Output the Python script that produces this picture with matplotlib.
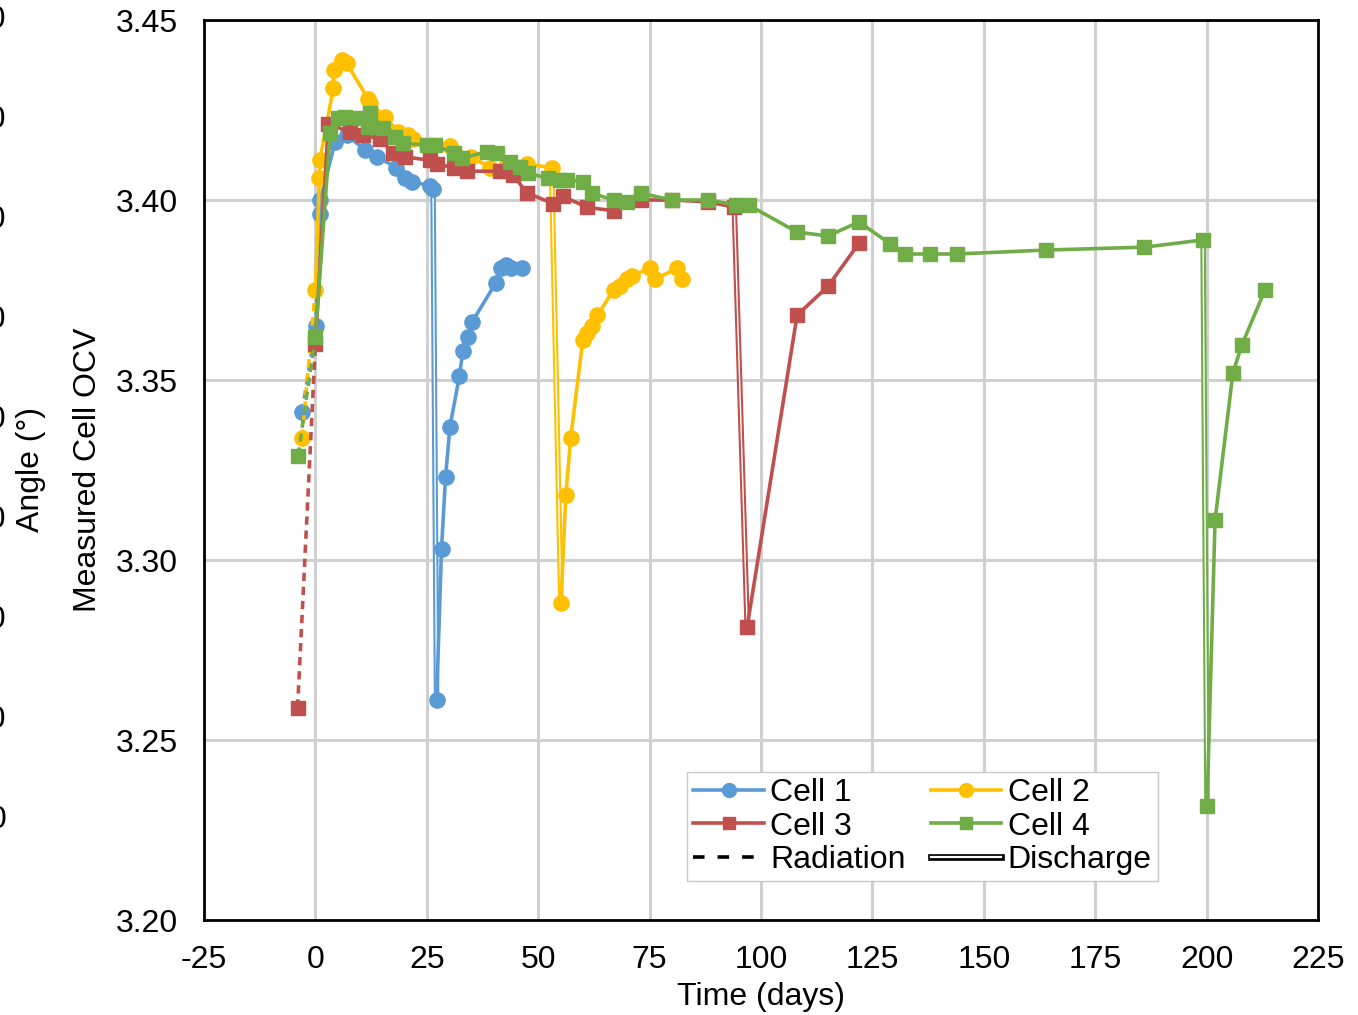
#OCV of the four cells over time, with radiation and discharge steps marked

import numpy as np
from matplotlib import pyplot as plt
from matplotlib.lines import Line2D
import matplotlib.patheffects as pe

# cell 1 (blue circles)
days1 = [-3.0, 0.1, 1.0, 1.1, 4.4, 7.0, 11.1, 13.8, 18.2, 20.1, 21.6, 25.7, 26.4,
         27.2, 28.3, 29.2, 30.2, 32.3, 33.1, 34.2, 35.1, 40.5, 41.6, 42.8, 44.0, 46.4]
ocv1 = [3.341, 3.365, 3.396, 3.400, 3.416, 3.418, 3.414, 3.412, 3.409, 3.406, 3.405, 3.404, 3.403,
        3.261, 3.303, 3.323, 3.337, 3.351, 3.358, 3.362, 3.366, 3.377, 3.381, 3.382, 3.381, 3.381]
dis1 = 12

# cell 2 (yellow circles)
days2 = [-3.0, 0.0, 0.9, 1.0, 4.0, 4.1, 5.9, 7.0, 11.9, 12.3, 15.6, 18.6, 20.8, 21.9, 25.0,
         30.2, 35.0, 39.2, 43.0, 47.4, 53.0, 55.1, 56.2, 57.3, 60.0, 60.9, 62.0, 63.3, 66.9,
         68.4, 69.9, 71.0, 75.1, 76.2, 81.1, 82.2]
ocv2 = [3.334, 3.375, 3.406, 3.411, 3.431, 3.436, 3.439, 3.438, 3.428, 3.427, 3.423, 3.419,
        3.418, 3.417, 3.415, 3.415, 3.412, 3.409, 3.410, 3.410, 3.409, 3.288, 3.318, 3.334,
        3.361, 3.363, 3.365, 3.368, 3.375, 3.376, 3.378, 3.379, 3.381, 3.378, 3.381, 3.378]
dis2 = 20

# cell 3 (red squares)
days3 = [-4.0, 0.0, 2.9, 7.8, 10.7, 14.5, 17.4, 20.1, 25.7, 27.2, 31.0, 34.0, 41.4, 44.4,
         47.4, 53.4, 55.6, 60.9, 66.9, 73.0, 80.0, 88.0, 94.0, 96.9, 108.1, 115.0, 122.0]
ocv3 = [3.259, 3.360, 3.421, 3.419, 3.418, 3.417, 3.413, 3.412, 3.411, 3.410, 3.409, 3.408,
        3.408, 3.407, 3.402, 3.399, 3.401, 3.398, 3.397, 3.400, 3.400, 3.3995, 3.398, 3.2815,
        3.368, 3.376, 3.388]
dis3 = 22

# cell 4 (green squares)
days4 = [-3.9, 0.0, 3.3, 5.1, 6.6, 10.0, 11.8, 12.3, 15.2, 17.9, 19.7, 25.0, 26.8, 31.0,
         32.8, 38.4, 40.7, 43.7, 45.9, 47.8, 52.3, 54.9, 56.4, 60.1, 62.0, 66.9, 69.9, 73.0,
         80.0, 88.2, 94.5, 97.2, 108.1, 115.0, 122.0, 129.0, 132.3, 137.9, 144.0, 164.0,
         186.0, 199.2, 200.1, 201.9, 205.9, 207.9, 213.1]
ocv4 = [3.329, 3.362, 3.4185, 3.4227, 3.4231, 3.4227, 3.4204, 3.4241, 3.4199, 3.4176, 3.4157,
        3.4153, 3.4153, 3.413, 3.4116, 3.4134, 3.413, 3.4106, 3.4093, 3.4074, 3.406, 3.4056,
        3.4056, 3.4051, 3.4019, 3.400, 3.3995, 3.4019, 3.400, 3.400, 3.3986, 3.3986, 3.3911,
        3.390, 3.3939, 3.3878, 3.385, 3.385, 3.385, 3.3861, 3.3869, 3.3889, 3.2317, 3.3111,
        3.3519, 3.3597, 3.375]
dis4 = 41

blue = '#5B9BD5'
yellow = '#FFC000'
red = '#C0504D'
green = '#70AD47'

plt.rcParams['font.family'] = ['Liberation Sans', 'DejaVu Sans']
plt.rcParams['font.size'] = 23
plt.rcParams['axes.unicode_minus'] = False

fig = plt.figure(figsize=(13.58, 10.15), dpi=100)
ax = fig.add_axes([204/1358, 1 - 920/1015, 1114/1358, 900/1015])

lw = 2.6

def draw_cell(t, v, d, color, marker, ms):
    t = np.asarray(t)
    v = np.asarray(v)
    #radiation step: first point to second
    ax.plot(t[:2], v[:2], color=color, lw=lw, dashes=(2.3, 1.6))
    #recovery before discharge
    ax.plot(t[1:d+1], v[1:d+1], color=color, lw=lw)
    #discharge drop as a hollow line
    ax.plot(t[d:d+2], v[d:d+2], color='white', lw=1.0,
            path_effects=[pe.Stroke(linewidth=4.0, foreground=color), pe.Normal()])
    #after discharge
    ax.plot(t[d+1:], v[d+1:], color=color, lw=lw)
    ax.plot(t, v, ls='none', marker=marker, ms=ms, color=color, mec=color)

draw_cell(days1, ocv1, dis1, blue, 'o', 11)
draw_cell(days2, ocv2, dis2, yellow, 'o', 11)
draw_cell(days3, ocv3, dis3, red, 's', 9.5)
draw_cell(days4, ocv4, dis4, green, 's', 10)

ax.set_xlim(-25, 225)
ax.set_ylim(3.20, 3.45)
ax.set_xticks(np.arange(-25, 226, 25))
ax.set_yticks(np.arange(3.20, 3.451, 0.05))
ax.set_yticklabels(['%.2f' % v for v in np.arange(3.20, 3.451, 0.05)])
ax.grid(True, color='#D0D0D0', lw=2.2)
ax.set_axisbelow(True)
ax.tick_params(length=0, labelsize=23)
ax.tick_params(axis='y', pad=19)
ax.tick_params(axis='x', pad=18)
for s in ax.spines.values():
    s.set_linewidth(2)
    s.set_color('black')
ax.set_xlabel('Time (days)', fontsize=23)
ax.xaxis.label.set_va('center')
ax.xaxis.set_label_coords(0.5, (920 - 997) / 900)
ax.set_ylabel('Measured Cell OCV', fontsize=23)
ax.yaxis.label.set_va('center')
ax.yaxis.set_label_coords((88 - 204) / 1114, 0.5)

#left-hand angle axis, mostly cut off at the figure edge
fig.text(31/1358, 1 - 470/1015, 'Angle (°)', rotation=90, ha='center', va='center', fontsize=23)
for k, lab in enumerate(['80', '70', '60', '50', '40', '30', '20', '10', '0']):
    fig.text(6/1358, 1 - (20 + 100*k)/1015, lab, ha='right', va='center', fontsize=23)

handles = [
    Line2D([], [], color=blue, lw=lw, marker='o', ms=10),
    Line2D([], [], color=red, lw=lw, marker='s', ms=9),
    Line2D([], [], color='black', lw=lw, dashes=(3.2, 3.6)),
    Line2D([], [], color=yellow, lw=lw, marker='o', ms=10),
    Line2D([], [], color=green, lw=lw, marker='s', ms=9),
    Line2D([], [], color='white', lw=1.6,
           path_effects=[pe.Stroke(linewidth=4.8, foreground='black'), pe.Normal()]),
]
labels = ['Cell 1', 'Cell 3', 'Radiation', 'Cell 2', 'Cell 4', 'Discharge']
leg = ax.legend(handles, labels, ncol=2, loc='upper left', bbox_to_anchor=(687/1358, 1 - 772/1015),
                bbox_transform=fig.transFigure, fontsize=23, frameon=True, fancybox=False,
                edgecolor='#C8C8C8', framealpha=1, borderpad=0.2, labelspacing=0.1,
                handlelength=2.2, handletextpad=0.2, columnspacing=0.8, borderaxespad=0)
leg.get_frame().set_linewidth(1)

fig.savefig('out.png', dpi=100)
